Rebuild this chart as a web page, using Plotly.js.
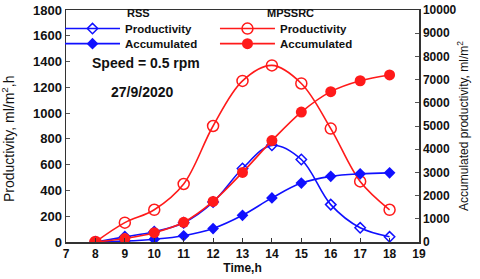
<!DOCTYPE html>
<html>
<head>
<meta charset="utf-8">
<script src="https://cdn.plot.ly/plotly-3.0.1.min.js"></script>
<style>html,body{margin:0;padding:0;background:#fff;}#chart{width:480px;height:279px;}</style>
</head>
<body>
<div id="chart"></div>
<script>
var hours = [8, 9, 10, 11, 12, 13, 14, 15, 16, 17, 18];
var rssProductivity = [0, 40, 80, 150, 310, 570, 750, 640, 290, 110, 40];
var rssAccumulated = [0, 40, 120, 270, 580, 1150, 1900, 2540, 2830, 2940, 2980];
var mpProductivity = [0, 150, 250, 450, 900, 1250, 1370, 1230, 880, 470, 250];
var mpAccumulated = [0, 150, 400, 850, 1750, 3000, 4370, 5600, 6480, 6950, 7200];

var blue = '#1010ff';
var red = '#ff1a1a';
var fontFam = 'Arial, "Liberation Sans", sans-serif';

var traces = [
  {x: hours, y: rssProductivity, name: 'Productivity', type: 'scatter', mode: 'lines+markers',
   line: {color: blue, width: 1.6, shape: 'spline'},
   marker: {symbol: 'diamond-open', size: 8, color: blue, line: {width: 1.5}}, legend: 'legend'},
  {x: hours, y: rssAccumulated, name: 'Accumulated', type: 'scatter', mode: 'lines+markers', yaxis: 'y2',
   line: {color: blue, width: 1.6, shape: 'spline'},
   marker: {symbol: 'diamond', size: 9, color: blue}, legend: 'legend2'},
  {x: hours, y: mpProductivity, name: 'Productivity', type: 'scatter', mode: 'lines+markers',
   line: {color: red, width: 1.6, shape: 'spline'},
   marker: {symbol: 'circle-open', size: 11, color: red, line: {width: 1.5}}, legend: 'legend3'},
  {x: hours, y: mpAccumulated, name: 'Accumulated', type: 'scatter', mode: 'lines+markers', yaxis: 'y2',
   line: {color: red, width: 1.6, shape: 'spline'},
   marker: {symbol: 'circle', size: 11, color: red}, legend: 'legend4'}
];

function leg(x, y) {
  return {x: x, y: y, xref: 'paper', yref: 'paper', xanchor: 'left', yanchor: 'middle',
    bgcolor: 'rgba(0,0,0,0)', borderwidth: 0, itemwidth: 55,
    font: {family: fontFam, size: 11.5, color: '#111', weight: 'bold'}};
}

var layout = {
  width: 480, height: 279,
  margin: {l: 66, r: 61, t: 10, b: 37},
  paper_bgcolor: '#fff', plot_bgcolor: '#fff',
  showlegend: true,
  font: {family: fontFam, color: '#111'},
  xaxis: {range: [7, 19], dtick: 1, tick0: 7, showgrid: false, zeroline: false,
    showline: true, linecolor: '#333', linewidth: 1.5, mirror: true,
    ticks: 'inside', ticklen: 4, tickcolor: '#333',
    tickfont: {family: fontFam, size: 12, weight: 'bold', color: '#111'},
    title: {text: 'Time,h', font: {family: fontFam, size: 12, weight: 'bold', color: '#111'}, standoff: 2}},
  yaxis: {range: [0, 1800], dtick: 200, showgrid: false, zeroline: false,
    showline: true, linecolor: '#333', linewidth: 1.5,
    ticks: 'inside', ticklen: 4, tickcolor: '#555',
    tickfont: {family: fontFam, size: 13, weight: 'bold', color: '#111'}},
  yaxis2: {range: [0, 10000], dtick: 1000, overlaying: 'y', side: 'right', showgrid: false, zeroline: false,
    showline: true, linecolor: '#333', linewidth: 1.5, tickformat: 'd',
    ticks: 'inside', ticklen: 4, tickcolor: '#555',
    tickfont: {family: fontFam, size: 12, weight: 'bold', color: '#111'},
    title: {text: 'Accumulated productivity, ml/m<sup>2</sup>', font: {family: fontFam, size: 12, color: '#111'}, standoff: 4}},
  legend: leg(-0.017, 0.92),
  legend2: leg(-0.017, 0.855),
  legend3: leg(0.422, 0.92),
  legend4: leg(0.422, 0.855),
  annotations: [
    {text: 'Productivity, ml/m<sup>2</sup>,h', textangle: -90, x: -0.164, y: 0.444, xref: 'paper', yref: 'paper',
     xanchor: 'center', yanchor: 'middle', showarrow: false,
     font: {family: fontFam, size: 14, color: '#111'}},
    {text: 'RSS', x: 0.167, y: 0.985, xref: 'paper', yref: 'paper', xanchor: 'left', yanchor: 'middle', showarrow: false,
     font: {family: fontFam, size: 11, weight: 'bold', color: '#111'}},
    {text: 'MPSSRC', x: 0.564, y: 0.985, xref: 'paper', yref: 'paper', xanchor: 'left', yanchor: 'middle', showarrow: false,
     font: {family: fontFam, size: 11, weight: 'bold', color: '#111'}},
    {text: 'Speed = 0.5 rpm', x: 0.068, y: 0.77, xref: 'paper', yref: 'paper', xanchor: 'left', yanchor: 'middle', showarrow: false,
     font: {family: fontFam, size: 14, weight: 'bold', color: '#111'}},
    {text: '27/9/2020', x: 0.122, y: 0.645, xref: 'paper', yref: 'paper', xanchor: 'left', yanchor: 'middle', showarrow: false,
     font: {family: fontFam, size: 14, weight: 'bold', color: '#111'}}
  ]
};

Plotly.newPlot('chart', traces, layout, {displayModeBar: false, staticPlot: true});
</script>
</body>
</html>
